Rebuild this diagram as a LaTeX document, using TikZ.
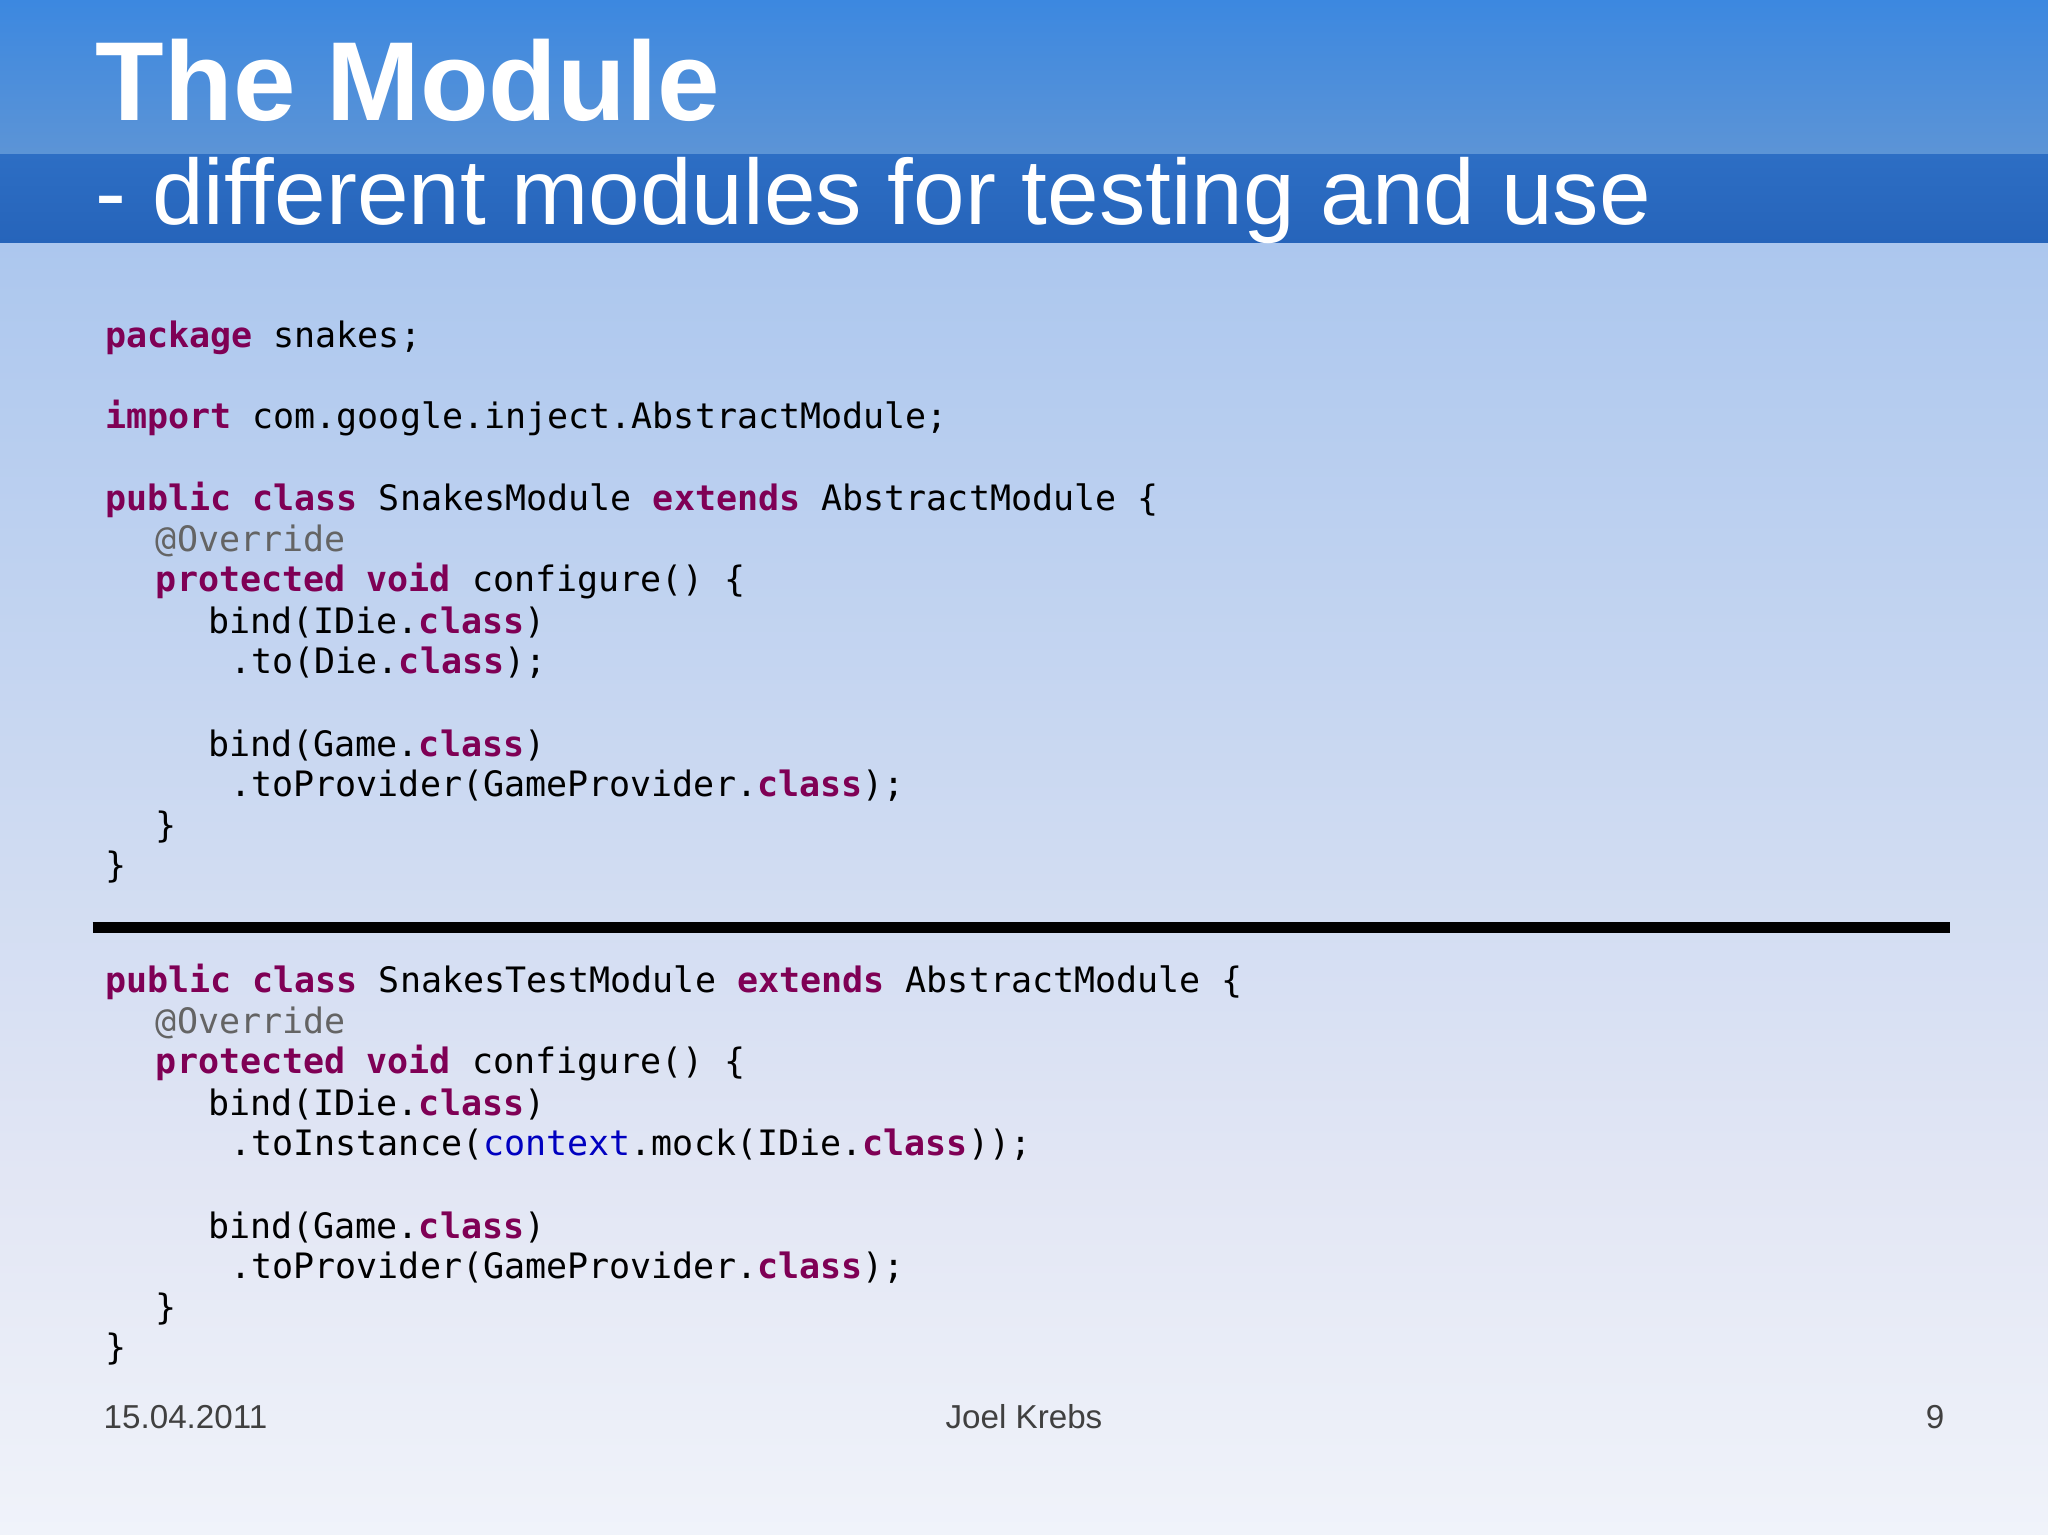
\documentclass[tikz,border=0pt]{standalone}
\usepackage{fontspec}
\setmainfont{Liberation Sans}
\setmonofont{DejaVu Sans Mono}
\definecolor{kw}{HTML}{7F0055}
\definecolor{ann}{HTML}{646464}
\definecolor{ctx}{HTML}{0000C0}
\newcommand\kw[1]{\textcolor{kw}{\textbf{#1}}}
\begin{document}
\begin{tikzpicture}[x=0.5pt,y=-0.5pt,
  code/.style={anchor=base west,inner sep=0pt,font=\fontsize{13.4pt}{16pt}\ttfamily},
  foot/.style={anchor=base,inner sep=0pt,font=\fontsize{12.7pt}{15pt}\selectfont,text=black!75}]
\useasboundingbox (0,0) rectangle (1568,1175);
\shade[top color={rgb,255:red,172;green,199;blue,238},bottom color={rgb,255:red,226;green,230;blue,244}] (0,186) rectangle (1568,900);
\shade[top color={rgb,255:red,226;green,230;blue,244},bottom color={rgb,255:red,240;green,243;blue,250}] (0,900) rectangle (1568,1175);
\shade[top color={rgb,255:red,60;green,136;blue,224},bottom color={rgb,255:red,92;green,148;blue,214}] (0,0) rectangle (1568,118);
\shade[top color={rgb,255:red,45;green,110;blue,196},bottom color={rgb,255:red,38;green,100;blue,186}] (0,118) rectangle (1568,186);
\node[anchor=base west,inner sep=0pt,text=white,font=\fontsize{43pt}{50pt}\bfseries] (title) at (73,92) {The Module};
\node[anchor=base west,inner sep=0pt,text=white,font=\fontsize{35.5pt}{42pt}\selectfont] (sub) at (73,172) {- different modules for testing and use};
\node[code] (a1) at (80,266) {\kw{package} snakes;};
\node[code] (a2) at (80,328) {\kw{import} com.google.inject.AbstractModule;};
\node[code] (a3) at (80,391) {\kw{public} \kw{class} SnakesModule \kw{extends} AbstractModule \{};
\node[code,text=ann] (a4) at (119,422) {@Override};
\node[code] (a5) at (119,453) {\kw{protected} \kw{void} configure() \{};
\node[code] (a6) at (159,485) {bind(IDie.\kw{class})};
\node[code] (a7) at (176,516) {.to(Die.\kw{class});};
\node[code] (a8) at (159,579) {bind(Game.\kw{class})};
\node[code] (a9) at (176,610) {.toProvider(GameProvider.\kw{class});};
\node[code] (a10) at (119,641) {\}};
\node[code] (a11) at (80,672) {\}};
\coordinate (l1) at (71,710); \coordinate (l2) at (1493,710);
\draw[line width=4pt] (l1) -- (l2);
\node[code] (b1) at (80,760) {\kw{public} \kw{class} SnakesTestModule \kw{extends} AbstractModule \{};
\node[code,text=ann] (b2) at (119,791) {@Override};
\node[code] (b3) at (119,822) {\kw{protected} \kw{void} configure() \{};
\node[code] (b4) at (159,854) {bind(IDie.\kw{class})};
\node[code] (b5) at (176,885) {.toInstance(\textcolor{ctx}{context}.mock(IDie.\kw{class}));};
\node[code] (b6) at (159,948) {bind(Game.\kw{class})};
\node[code] (b7) at (176,979) {.toProvider(GameProvider.\kw{class});};
\node[code] (b8) at (119,1010) {\}};
\node[code] (b9) at (80,1041) {\}};
\node[foot,anchor=base west] (f1) at (79,1094) {15.04.2011};
\node[foot] (f2) at (784,1094) {Joel Krebs};
\node[foot,anchor=base east] (f3) at (1489,1094) {9};
\end{tikzpicture}
\end{document}
